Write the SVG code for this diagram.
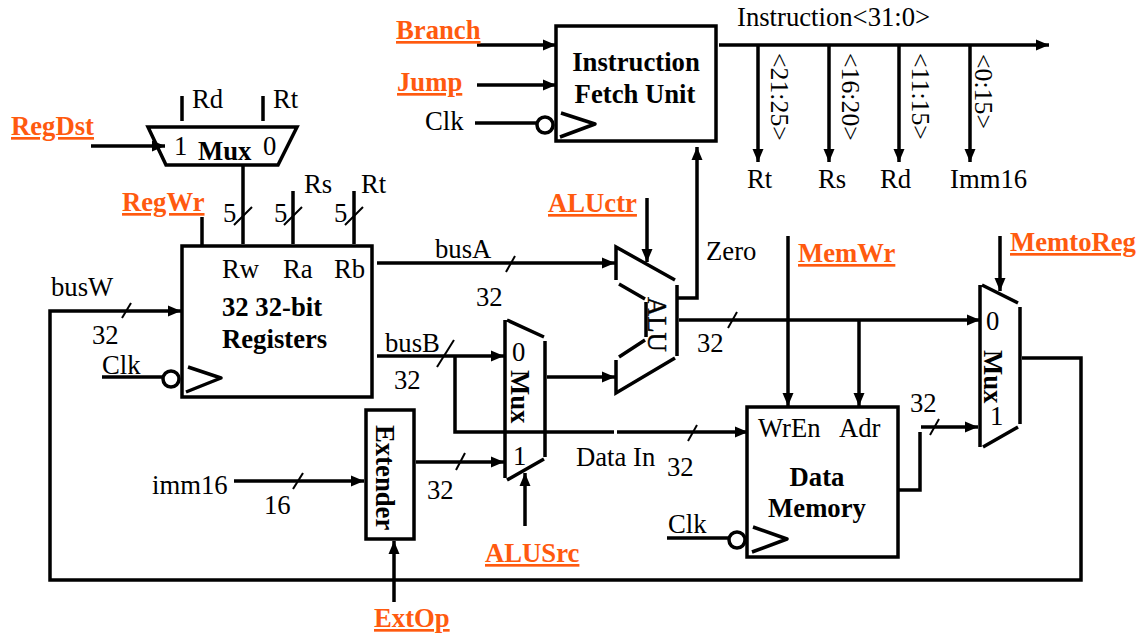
<svg xmlns="http://www.w3.org/2000/svg" width="1145" height="635" viewBox="0 0 1145 635">
<style>
text{font-family:"Liberation Serif","Times New Roman",serif;font-size:26.7px;fill:#000}
.b{font-weight:bold}
.c{font-weight:bold;fill:#ff5a0f;text-decoration:underline}
.m{text-anchor:middle}
.r{font-size:25.8px}
.s{fill:none;stroke:#000;stroke-width:3.5}
.k{fill:none;stroke:#000;stroke-width:3.5;stroke-linejoin:round}
.l{fill:none;stroke:#000;stroke-width:3.5}
.a{fill:none;stroke:#000;stroke-width:3.5;marker-end:url(#arr)}
.t{fill:none;stroke:#000;stroke-width:2}
.n{fill:#fff;stroke:#000;stroke-width:3.5}
</style>
<defs>
<marker id="arr" markerUnits="userSpaceOnUse" markerWidth="14" markerHeight="12" refX="13" refY="6" orient="auto"><path d="M0,0.5 L13,6 L0,11.5 Z" fill="#000"/></marker>
</defs>
<rect width="1145" height="635" fill="#fff"/>
<g id="connectors">
<path class="a" d="M477,45H556"/>
<path class="a" d="M477,85H556"/>
<path class="l" d="M475,123H537"/>
<path class="a" d="M719,45H1049"/>
<path class="a" d="M758,45V162"/>
<path class="a" d="M829,45V162"/>
<path class="a" d="M899,45V162"/>
<path class="a" d="M970,45V162"/>
<path class="a" d="M91,146H165"/>
<path class="l" d="M182,96V121M263,96V121"/>
<path class="l" d="M243,165V244M293,191V244M354,191V244M202,217V246"/>
<path class="t" d="M234,225L252,207M284,225L302,207M345,225L363,207"/>
<path class="a" d="M377,263H615"/>
<path class="t" d="M506,272L515,256"/>
<path class="a" d="M377,356H504"/>
<path class="t" d="M437,367L454,340"/>
<path class="l" d="M455,356V432H614"/>
<path class="a" d="M617,432H748"/>
<path class="t" d="M688,441L697,425"/>
<path class="a" d="M547,377H615"/>
<path class="a" d="M416,462H504"/>
<path class="t" d="M456,470L465,453"/>
<path class="a" d="M234,481H364"/>
<path class="t" d="M293,489L303,473"/>
<path class="a" d="M647,198V262"/>
<path class="a" d="M677,298H697V147"/>
<path class="a" d="M679,320H980"/>
<path class="t" d="M728,328L737,312"/>
<path class="a" d="M788,236V406"/>
<path class="a" d="M859,320V406"/>
<path class="a" d="M1000,236V291"/>
<path class="l" d="M899,490H920V432"/>
<path class="a" d="M921,427H978"/>
<path class="t" d="M930,435L939,419"/>
<path class="a" d="M1022,358H1081V580H50V311H181"/>
<path class="t" d="M122,318L131,303"/>
<path class="l" d="M102,377H162"/>
<path class="l" d="M667,538H728"/>
<path class="a" d="M525,526V473"/>
<path class="a" d="M394,602V541"/>
</g>
<g id="instruction-fetch">
<rect class="s" x="556" y="26" width="160" height="115"/>
<circle class="n" cx="545" cy="125" r="8"/>
<path class="k" d="M561,113L595,124L560,137"/>
<text class="b m" x="636" y="71">Instruction</text>
<text class="b m" x="635" y="103">Fetch Unit</text>
</g>
<g id="regdst-mux">
<path class="s" d="M166,165L148,127H297L278,165Z"/>
<text x="174" y="155">1</text>
<text x="263" y="155">0</text>
<text class="b" x="198" y="160">Mux</text>
</g>
<g id="registers">
<rect class="s" x="182" y="246" width="190" height="151"/>
<circle class="n" cx="171" cy="379" r="8"/>
<path class="k" d="M188,367L221,378L186,392"/>
<text x="222" y="278">Rw</text>
<text x="283" y="278">Ra</text>
<text x="334" y="278">Rb</text>
<text class="b" x="222" y="316">32 32-bit</text>
<text class="b" x="222" y="348">Registers</text>
</g>
<g id="alusrc-mux">
<path class="l" d="M505,320V478M507,320L544,337M545,341V457M507,480L544,459"/>
<text x="512" y="361">0</text>
<text x="513" y="465">1</text>
<text class="b" transform="translate(511,370) rotate(90)">Mux</text>
</g>
<g id="extender">
<rect class="s" x="366" y="410" width="48" height="129"/>
<text class="b" transform="translate(376,425) rotate(90)">Extender</text>
</g>
<g id="alu">
<path class="l" d="M616,280V247L675,280M619,284L645,299M646,302V337M645,340L619,357M616,360V393L675,358M677,285V356"/>
<text transform="translate(648,297) rotate(90)" stroke="#000" stroke-width="0.4">ALU</text>
</g>
<g id="data-memory">
<rect class="s" x="747" y="407" width="151" height="150"/>
<circle class="n" cx="737" cy="540" r="8"/>
<path class="k" d="M753,527L787,539L752,552"/>
<text x="758" y="437">WrEn</text>
<text x="839" y="437">Adr</text>
<text class="b m" x="817" y="486">Data</text>
<text class="b m" x="817" y="517">Memory</text>
</g>
<g id="memtoreg-mux">
<path class="l" d="M980,447V285M982,285L1018,303M1020,307V424M983,447L1018,427"/>
<text x="986" y="330">0</text>
<text x="990" y="425">1</text>
<text class="b" transform="translate(984,350) rotate(90)">Mux</text>
</g>
<g id="labels">
<text class="c" x="396" y="39">Branch</text>
<text class="c" x="397" y="91">Jump</text>
<text class="c" x="11" y="135">RegDst</text>
<text class="c" x="122" y="211">RegWr</text>
<text class="c" x="548" y="212">ALUctr</text>
<text class="c" x="798" y="262">MemWr</text>
<text class="c" x="1010" y="251">MemtoReg</text>
<text class="c" x="485" y="562">ALUSrc</text>
<text class="c" x="374" y="627">ExtOp</text>
<text x="425" y="130">Clk</text>
<text x="102" y="374">Clk</text>
<text x="668" y="533">Clk</text>
<text x="737" y="26">Instruction&lt;31:0&gt;</text>
<text class="r" transform="translate(771,53) rotate(90)">&lt;21:25&gt;</text>
<text class="r" transform="translate(842,53) rotate(90)">&lt;16:20&gt;</text>
<text class="r" transform="translate(912,53) rotate(90)">&lt;11:15&gt;</text>
<text class="r" transform="translate(975,54) rotate(90)">&lt;0:15&gt;</text>
<text x="747" y="188">Rt</text>
<text x="818" y="188">Rs</text>
<text x="880" y="188">Rd</text>
<text x="950" y="188">Imm16</text>
<text x="192" y="108">Rd</text>
<text x="273" y="108">Rt</text>
<text x="304" y="193">Rs</text>
<text x="361" y="193">Rt</text>
<text x="223" y="222">5</text>
<text x="274" y="222">5</text>
<text x="334" y="222">5</text>
<text x="51" y="296">busW</text>
<text x="92" y="344">32</text>
<text x="435" y="258">busA</text>
<text x="476" y="306">32</text>
<text x="385" y="352">busB</text>
<text x="394" y="389">32</text>
<text x="706" y="260">Zero</text>
<text x="697" y="352">32</text>
<text x="576" y="466">Data In</text>
<text x="667" y="476">32</text>
<text x="427" y="499">32</text>
<text x="152" y="494">imm16</text>
<text x="264" y="514">16</text>
<text x="910" y="412">32</text>
</g>
</svg>
